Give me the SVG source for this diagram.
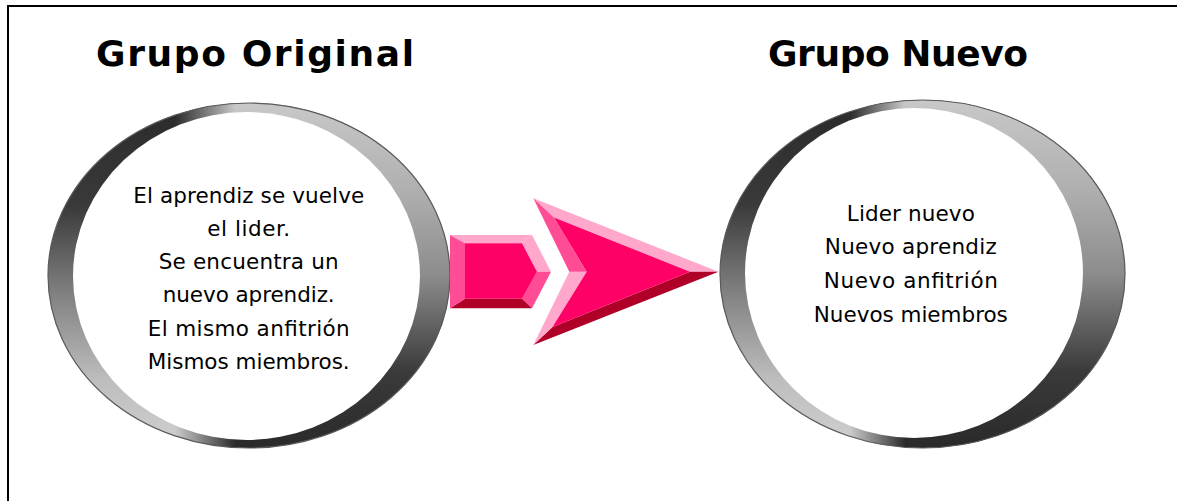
<svg xmlns="http://www.w3.org/2000/svg" width="1177" height="501" viewBox="0 0 1177 501">
  <style>
    .title { font-family: "DejaVu Sans", Verdana, sans-serif; font-weight: bold; font-size: 36px; fill: #000; text-anchor: middle; }
    .body { font-family: "DejaVu Sans", Verdana, sans-serif; font-size: 21.5px; fill: #000; text-anchor: middle; }
    .hole { fill: #fff; }
    .rim { fill: none; stroke: #5a5a5a; stroke-width: 1.2; }
    .light { fill: #ffa8cc; }
    .mid { fill: #ff4c94; }
    .dark { fill: #b00028; }
    .face { fill: #ff0066; }
  </style>
  <defs>
    <linearGradient id="gLeft" x1="0" y1="0" x2="0" y2="1">
      <stop offset="0" stop-color="#2a2a2a"/>
      <stop offset="0.3" stop-color="#3a3a3a"/>
      <stop offset="0.55" stop-color="#808080"/>
      <stop offset="0.8" stop-color="#bdbdbd"/>
      <stop offset="1" stop-color="#d0d0d0"/>
    </linearGradient>
    <linearGradient id="gRight" x1="0" y1="0" x2="0" y2="1">
      <stop offset="0" stop-color="#c8c8c8"/>
      <stop offset="0.25" stop-color="#b0b0b0"/>
      <stop offset="0.5" stop-color="#8c8c8c"/>
      <stop offset="0.78" stop-color="#3a3a3a"/>
      <stop offset="1" stop-color="#2a2a2a"/>
    </linearGradient>
    <linearGradient id="mg1" gradientUnits="userSpaceOnUse" x1="175" y1="0" x2="235" y2="0">
      <stop offset="0" stop-color="#000"/>
      <stop offset="1" stop-color="#fff"/>
    </linearGradient>
    <linearGradient id="mg2" gradientUnits="userSpaceOnUse" x1="850" y1="0" x2="905" y2="0">
      <stop offset="0" stop-color="#000"/>
      <stop offset="1" stop-color="#fff"/>
    </linearGradient>
    <mask id="m1" maskUnits="userSpaceOnUse" x="0" y="0" width="1177" height="501">
      <rect x="0" y="0" width="1177" height="501" fill="url(#mg1)"/>
    </mask>
    <mask id="m2" maskUnits="userSpaceOnUse" x="0" y="0" width="1177" height="501">
      <rect x="0" y="0" width="1177" height="501" fill="url(#mg2)"/>
    </mask>
  </defs>

  <rect x="0" y="0" width="1177" height="501" fill="#fff"/>
  <path d="M8,501 V6 H1177" fill="none" stroke="#000" stroke-width="2"/>

  <g id="title-original">
    <text class="title" x="255" y="66" textLength="318" lengthAdjust="spacing">Grupo Original</text>
  </g>
  <g id="title-nuevo">
    <text class="title" x="898" y="66" textLength="260" lengthAdjust="spacing">Grupo Nuevo</text>
  </g>

  <g id="node-original">
    <ellipse cx="249" cy="275.5" rx="201" ry="172.5" fill="url(#gLeft)"/>
    <ellipse cx="249" cy="275.5" rx="201" ry="172.5" fill="url(#gRight)" mask="url(#m1)"/>
    <ellipse class="rim" cx="249" cy="275.5" rx="201" ry="172.5"/>
    <ellipse class="hole" cx="246.5" cy="276" rx="173.5" ry="164"/>
    <text class="body" x="248.7" y="202.7" textLength="231" lengthAdjust="spacing">El aprendiz se vuelve</text>
    <text class="body" x="248.7" y="235.7" textLength="83" lengthAdjust="spacing">el lider.</text>
    <text class="body" x="248.7" y="269" textLength="180" lengthAdjust="spacing">Se encuentra un</text>
    <text class="body" x="248.7" y="302.3" textLength="172" lengthAdjust="spacing">nuevo aprendiz.</text>
    <text class="body" x="248.7" y="335.7" textLength="202" lengthAdjust="spacing">El mismo anfitrión</text>
    <text class="body" x="248.7" y="369" textLength="202" lengthAdjust="spacing">Mismos miembros.</text>
  </g>

  <g id="node-nuevo">
    <ellipse cx="922.5" cy="274" rx="202.5" ry="174" fill="url(#gLeft)"/>
    <ellipse cx="922.5" cy="274" rx="202.5" ry="174" fill="url(#gRight)" mask="url(#m2)"/>
    <ellipse class="rim" cx="922.5" cy="274" rx="202.5" ry="174"/>
    <ellipse class="hole" cx="914" cy="273" rx="169" ry="165"/>
    <text class="body" x="910.8" y="220.7" textLength="128" lengthAdjust="spacing">Lider nuevo</text>
    <text class="body" x="910.8" y="254.3" textLength="172" lengthAdjust="spacing">Nuevo aprendiz</text>
    <text class="body" x="910.8" y="288.3" textLength="174" lengthAdjust="spacing">Nuevo anfitrión</text>
    <text class="body" x="910.8" y="321.7" textLength="194" lengthAdjust="spacing">Nuevos miembros</text>
  </g>

  <g id="connectors">
    <g id="arrow-shaft">
      <polygon class="light" points="450,235 532,235 522,243.3 465,243.3"/>
      <polygon class="light" points="532,235 551,271.7 537,271.7 522,243.3"/>
      <polygon class="mid" points="551,271.7 532,308.3 522,298.7 537,271.7"/>
      <polygon class="dark" points="532,308.3 450,308.3 465,298.7 522,298.7"/>
      <polygon class="mid" points="450,308.3 450,235 465,243.3 465,298.7"/>
      <polygon class="face" points="465,243.3 522,243.3 537,271.7 522,298.7 465,298.7"/>
    </g>
    <g id="arrow-head">
      <polygon class="light" points="533.3,198.3 718.5,271.7 690,271.7 554,217.5"/>
      <polygon class="dark" points="718.5,271.7 533.3,345 552.5,327 690,271.7"/>
      <polygon class="light" points="533.3,345 569.3,271.7 586.7,271.7 552.5,327"/>
      <polygon class="mid" points="569.3,271.7 533.3,198.3 554,217.5 586.7,271.7"/>
      <polygon class="face" points="554,217.5 690,271.7 552.5,327 586.7,271.7"/>
    </g>
  </g>
</svg>
